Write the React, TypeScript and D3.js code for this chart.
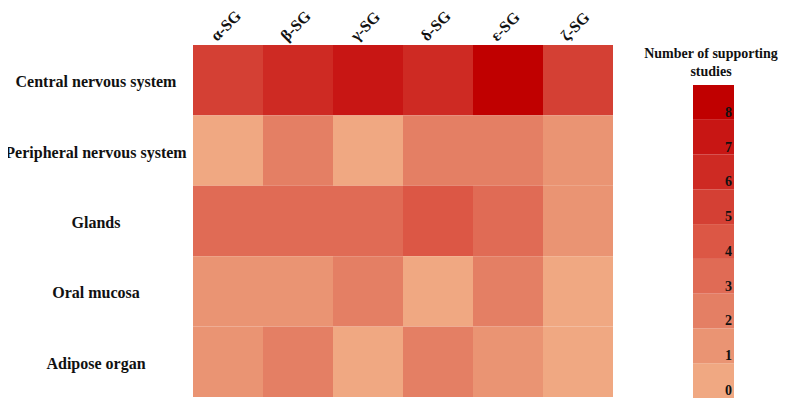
import React, { useRef, useEffect } from "react";
import * as d3 from "d3";

// categories
const columns = ["α-SG", "β-SG", "γ-SG", "δ-SG", "ε-SG", "ζ-SG"];
const rows = [
  "Central nervous system",
  "Peripheral nervous system",
  "Glands",
  "Oral mucosa",
  "Adipose organ",
];

// number of supporting studies, one array per row
const centralNervous = [5, 6, 7, 6, 8, 5];
const peripheralNervous = [0, 2, 0, 2, 2, 1];
const glands = [3, 3, 3, 4, 3, 1];
const oralMucosa = [1, 1, 2, 0, 2, 0];
const adiposeOrgan = [1, 2, 0, 2, 1, 0];
const values = [centralNervous, peripheralNervous, glands, oralMucosa, adiposeOrgan];

// legend levels
const levels = [0, 1, 2, 3, 4, 5, 6, 7, 8];
const levelColors = [
  "#f0a882", "#ea9473", "#e47f64", "#e06b55", "#dc5745",
  "#d44034", "#ce2a23", "#c81614", "#c00000",
];

const FONT = "Liberation Serif, DejaVu Serif, serif";

function Heatmap() {
  const svgRef = useRef<SVGSVGElement>(null);

  useEffect(() => {
    const svg = d3.select(svgRef.current);
    svg.selectAll("*").remove();

    const x = d3.scaleBand().domain(columns).range([193, 613]).padding(0);
    const y = d3.scaleBand().domain(rows).range([45, 397]).padding(0);
    const color = d3.scaleOrdinal<number, string>().domain(levels).range(levelColors);

    // cells
    const cells = values.flatMap((vals, r) =>
      vals.map((v, c) => ({ row: rows[r], col: columns[c], v }))
    );
    svg.append("g")
      .selectAll("rect")
      .data(cells)
      .enter()
      .append("rect")
      .attr("x", (d) => x(d.col)!)
      .attr("y", (d) => y(d.row)!)
      .attr("width", x.bandwidth())
      .attr("height", y.bandwidth())
      .attr("fill", (d) => color(d.v));

    // row labels
    svg.append("g")
      .selectAll("text")
      .data(rows)
      .enter()
      .append("text")
      .attr("x", 96)
      .attr("y", (d) => y(d)! + y.bandwidth() / 2 + 7)
      .attr("text-anchor", "middle")
      .style("font-family", FONT)
      .style("font-weight", "bold")
      .style("font-size", "16px")
      .attr("fill", "#111")
      .text((d) => d);

    // column labels, rotated
    svg.append("g")
      .selectAll("text")
      .data(columns)
      .enter()
      .append("text")
      .attr("transform", (d) => `translate(${x(d)! + x.bandwidth() / 2 - 11},${42}) rotate(-45)`)
      .attr("text-anchor", "start")
      .style("font-family", FONT)
      .style("font-weight", "bold")
      .style("font-size", "16px")
      .attr("fill", "#111")
      .text((d) => d);

    // legend
    const ly = d3.scaleBand<number>().domain([...levels].reverse()).range([85, 398]).padding(0);
    const legend = svg.append("g");
    legend.selectAll("rect")
      .data(levels)
      .enter()
      .append("rect")
      .attr("x", 693)
      .attr("y", (d) => ly(d)!)
      .attr("width", 41)
      .attr("height", ly.bandwidth())
      .attr("fill", (d) => color(d));
    legend.selectAll("text.lvl")
      .data(levels)
      .enter()
      .append("text")
      .attr("class", "lvl")
      .attr("x", 732)
      .attr("y", (d) => ly(d)! + ly.bandwidth() - 3)
      .attr("text-anchor", "end")
      .style("font-family", FONT)
      .style("font-weight", "bold")
      .style("font-size", "14px")
      .attr("fill", "#111")
      .text((d) => d);
    legend.append("text")
      .attr("x", 711)
      .attr("y", 58)
      .attr("text-anchor", "middle")
      .style("font-family", FONT)
      .style("font-weight", "bold")
      .style("font-size", "14px")
      .attr("fill", "#111")
      .text("Number of supporting");
    legend.append("text")
      .attr("x", 711)
      .attr("y", 76)
      .attr("text-anchor", "middle")
      .style("font-family", FONT)
      .style("font-weight", "bold")
      .style("font-size", "14px")
      .attr("fill", "#111")
      .text("studies");
  }, []);

  return <svg ref={svgRef} width={788} height={406} style={{ display: "block" }} />;
}

export default function App() {
  return (
    <div style={{ margin: -8 }}>
      <Heatmap />
    </div>
  );
}
